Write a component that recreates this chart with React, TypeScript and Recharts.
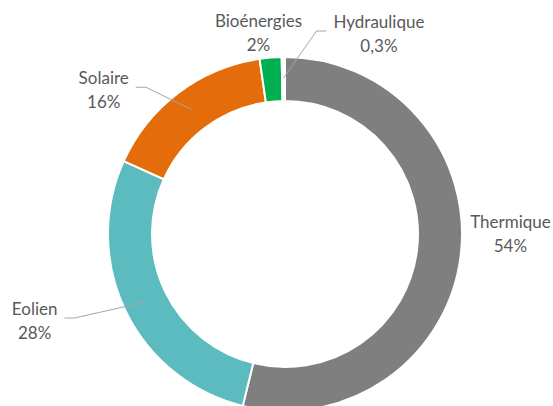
import React from 'react';
import { PieChart, Pie, Cell } from 'recharts';

document.body.style.margin = '0';

const SOURCES = ['Thermique', 'Eolien', 'Solaire', 'Bioénergies', 'Hydraulique'];
const SHARES = [54, 28, 16, 2, 0.3];
const COLORS = ['#7F7F7F', '#5BBBBE', '#E46C0A', '#00B050', '#FFFFFF'];

const data = SOURCES.map((name, i) => ({ name, value: SHARES[i] }));

// Excel-like label placement: nudge from a radial spot, side of the leader line (0 = none)
const LABEL_LAYOUT: Record<string, { dx: number; dy: number; line: number }> = {
  Thermique: { dx: 12, dy: -26, line: 0 },
  Eolien: { dx: -57, dy: -8, line: 1 },
  Solaire: { dx: -52, dy: 27, line: 1 },
  Bioénergies: { dx: -9, dy: 13, line: 0 },
  Hydraulique: { dx: 96, dy: 14, line: -1 },
};

const FONT = '17px Lato';
const RAD = Math.PI / 180;

const ctx = document.createElement('canvas').getContext('2d');
const textWidth = (s: string) => {
  if (!ctx) return s.length * 8;
  ctx.font = FONT;
  return ctx.measureText(s).width;
};

const formatPct = (v: number) => `${String(v).replace('.', ',')}%`;

const renderLabel = (props: any) => {
  const { cx, cy, midAngle, index } = props;
  const entry = data[index];
  const layout = LABEL_LAYOUT[entry.name];
  const pt = (r: number) => [cx + r * Math.cos(-midAngle * RAD), cy + r * Math.sin(-midAngle * RAD)];
  const [bx, by] = pt(215);
  const x = bx + layout.dx;
  const y = by + layout.dy;

  let line = null;
  if (layout.line !== 0) {
    const [sx, sy] = pt(156);
    const ex = x + layout.line * (textWidth(entry.name) / 2 + 7);
    const ey = y - 2;
    const kx = ex + layout.line * 10;
    line = <path d={`M${sx},${sy}L${kx},${ey}L${ex},${ey}`} stroke="#A6A6A6" strokeWidth={1} fill="none" />;
  }

  return (
    <g>
      {line}
      <text x={x} y={y - 12} textAnchor="middle" dominantBaseline="central" fill="#595959" style={{ font: FONT }}>
        {entry.name}
      </text>
      <text x={x} y={y + 12} textAnchor="middle" dominantBaseline="central" fill="#595959" style={{ font: FONT }}>
        {formatPct(entry.value)}
      </text>
    </g>
  );
};

export default function App() {
  return (
    <div style={{ width: 553, height: 406, background: '#fff' }}>
      <PieChart width={553} height={406} margin={{ top: 0, right: 0, bottom: 0, left: 0 }}>
        <Pie
          data={data}
          dataKey="value"
          nameKey="name"
          cx={285}
          cy={234}
          innerRadius={133}
          outerRadius={177}
          startAngle={90}
          endAngle={-270}
          stroke="#FFFFFF"
          strokeWidth={2}
          label={renderLabel}
          labelLine={false}
          isAnimationActive={false}
        >
          {data.map((d, i) => (
            <Cell key={d.name} fill={COLORS[i]} />
          ))}
        </Pie>
      </PieChart>
    </div>
  );
}
